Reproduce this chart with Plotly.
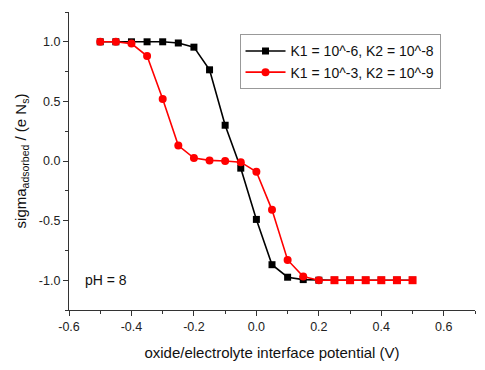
import plotly.graph_objects as go

potential = [-0.5, -0.45, -0.4, -0.35, -0.3, -0.25, -0.2, -0.15, -0.1, -0.05, 0.0,
             0.05, 0.1, 0.15, 0.2, 0.25, 0.3, 0.35, 0.4, 0.45, 0.5]
sigma_k1_6 = [1.0, 1.0, 1.0, 1.0, 1.0, 0.99, 0.955, 0.765, 0.30, -0.06, -0.49,
              -0.87, -0.975, -0.995, -1.0, -1.0, -1.0, -1.0, -1.0, -1.0, -1.0]
sigma_k1_3 = [1.0, 1.0, 0.985, 0.88, 0.52, 0.13, 0.025, 0.005, 0.0, -0.01, -0.09,
              -0.41, -0.83, -0.97, -1.0, -1.0, -1.0, -1.0, -1.0, -1.0, -1.0]
name_black = "K1 = 10^-6, K2 = 10^-8"
name_red = "K1 = 10^-3, K2 = 10^-9"

red_symbols = ["circle" if x <= 0.2 else "square" for x in potential]

FONT = "Liberation Sans, Arial"

fig = go.Figure()
fig.add_trace(go.Scatter(x=potential, y=sigma_k1_6, mode="lines+markers", name=name_black,
                         line=dict(color="black", width=1.6),
                         marker=dict(symbol="square", size=7, color="black")))
fig.add_trace(go.Scatter(x=potential, y=sigma_k1_3, mode="lines+markers", name=name_red,
                         line=dict(color="#ff0000", width=1.6),
                         marker=dict(symbol=red_symbols, size=8, color="#ff0000")))

axis_common = dict(showgrid=False, zeroline=False, showline=True, linecolor="#333",
                   linewidth=1.2, ticks="outside", ticklen=5, tickwidth=1.2, tickcolor="#333",
                   tickfont=dict(family=FONT, size=12.5, color="#222"),
                   mirror=False)

fig.update_xaxes(range=[-0.6, 0.7], tickvals=[-0.6, -0.4, -0.2, 0.0, 0.2, 0.4, 0.6],
                 ticktext=["-0.6", "-0.4", "-0.2", "0.0", "0.2", "0.4", "0.6"],
                 minor=dict(dtick=0.1, ticks="outside", ticklen=3, tickcolor="#333", tickwidth=1.2),
                 title=dict(text="oxide/electrolyte interface potential (V)",
                            font=dict(family=FONT, size=15, color="#111"),
                            standoff=14),
                 **axis_common)
fig.update_yaxes(range=[-1.25, 1.25], tickvals=[-1.0, -0.5, 0.0, 0.5, 1.0],
                 ticktext=["-1.0", "-0.5", "0.0", "0.5", "1.0"],
                 minor=dict(dtick=0.25, ticks="outside", ticklen=3, tickcolor="#333", tickwidth=1.2),
                 title=dict(text="sigma<sub>adsorbed</sub> / (e N<sub>s</sub>)",
                            font=dict(family=FONT, size=15, color="#111"),
                            standoff=8),
                 **axis_common)

fig.add_annotation(x=-0.555, y=-1.0, xref="x", yref="y", text="pH = 8", showarrow=False,
                   xanchor="left", yanchor="middle",
                   font=dict(family=FONT, size=14, color="#111"))

fig.update_layout(
    width=485, height=370,
    margin=dict(l=61, r=18, t=4, b=68),
    plot_bgcolor="white", paper_bgcolor="white",
    legend=dict(x=0.42, y=0.925, xanchor="left", yanchor="top",
                bgcolor="white", bordercolor="#999", borderwidth=1,
                font=dict(family=FONT, size=14, color="#111"),
                tracegroupgap=0, itemwidth=40),
    showlegend=True,
)

fig.write_html("out.html")
